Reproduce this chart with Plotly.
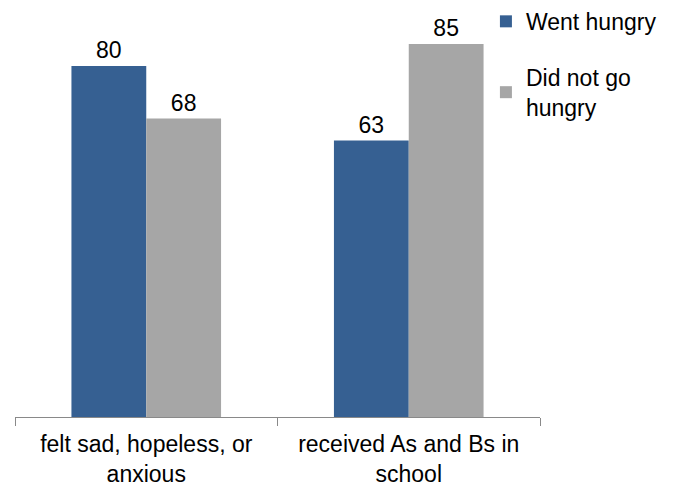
import plotly.graph_objects as go

categories = ["felt sad, hopeless, or<br>anxious", "received As and Bs in<br>school"]
went_hungry = [80, 63]
not_hungry = [68, 85]
series_names = ["Went hungry", "Did not go<br>hungry"]

fig = go.Figure()
fig.add_trace(go.Bar(x=categories, y=went_hungry, name=series_names[0],
                     legendgroup="a",
                     marker=dict(color="#366092", line=dict(width=0)),
                     text=went_hungry, textposition="outside",
                     textfont=dict(size=23, color="black"), cliponaxis=False))
fig.add_trace(go.Bar(x=categories, y=not_hungry, name=series_names[1],
                     legendgroup="b",
                     marker=dict(color="#A6A6A6", line=dict(width=0)),
                     text=not_hungry, textposition="outside",
                     textfont=dict(size=23, color="black"), cliponaxis=False))

fig.update_layout(
    width=669, height=477,
    margin=dict(l=7, r=137, t=14, b=68, autoexpand=False),
    plot_bgcolor="white", paper_bgcolor="white",
    font=dict(family="Liberation Sans, Arial, sans-serif", size=23, color="black"),
    barmode="group", bargap=0.43, bargroupgap=0,
    showlegend=True,
    legend=dict(x=0.897, y=1.056, xanchor="left", yanchor="top",
                font=dict(size=23), itemwidth=30, tracegroupgap=23,
                bgcolor="rgba(0,0,0,0)"),
    xaxis=dict(showline=True, linecolor="#898989", linewidth=1,
               ticks="outside", tickson="boundaries", ticklen=8,
               tickcolor="#898989", showgrid=False, ticklabelstandoff=6,
               tickfont=dict(size=23, color="black")),
    yaxis=dict(range=[0, 90], visible=False, showgrid=False),
)
fig.write_html("out.html")
